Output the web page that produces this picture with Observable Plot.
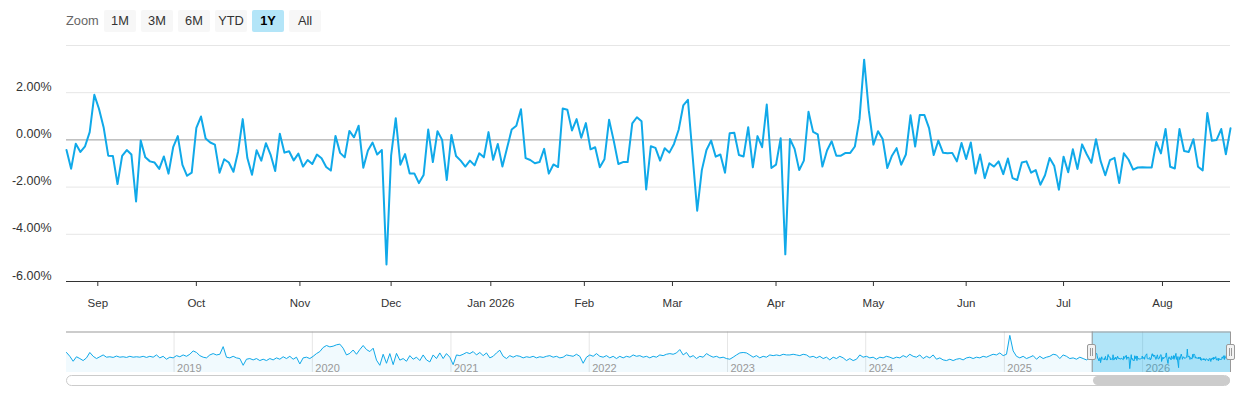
<!DOCTYPE html>
<html><head><meta charset="utf-8">
<script src="https://cdn.jsdelivr.net/npm/d3@7"></script>
<script src="https://cdn.jsdelivr.net/npm/@observablehq/plot@0.6"></script>
<style>
body{margin:0;background:#fff;}
#wrap{position:relative;width:1240px;height:400px;font-family:"Liberation Sans",Arial,Helvetica,sans-serif;overflow:hidden}
.lbl{position:absolute;top:10px;height:22px;line-height:22px;font-size:12.8px;color:#666}
.btn{position:absolute;top:10px;width:32px;height:22px;line-height:22px;text-align:center;font-size:12.8px;color:#333;background:#f7f7f7;border-radius:2px}
.btn.sel{background:#b3e5f8;font-weight:bold;color:#000}
.handle{position:absolute;top:344px;width:7px;height:14px;background:#f2f2f2;border:1px solid #999;border-radius:2px}
.handle i{position:absolute;left:2px;top:3px;width:1px;height:8px;border-left:1px solid #999;border-right:1px solid #999}
.track{position:absolute;top:375px;height:9px;border:1px solid #ccc;border-radius:6px;background:#fff}
.thumb{position:absolute;top:376px;height:9px;background:#ccc;border-radius:5px}
</style></head>
<body>
<div id="wrap"></div>
<script>
const rangeButtons = ["1M","3M","6M","YTD","1Y","All"];
const selectedButton = "1Y";

const startDate = "2025-08-21";
const holidays = ["2025-09-01","2025-11-27","2025-12-25","2026-01-01","2026-01-19","2026-02-16","2026-04-03","2026-05-25","2026-06-19","2026-07-03"];

// daily values (%), one per trading day
const returns = [
-0.43,-1.22,-0.16,-0.51,-0.27,0.33,1.91,1.32,0.54,-0.67,
-0.68,-1.87,-0.68,-0.43,-0.62,-2.61,-0.03,-0.74,-0.91,-0.96,
-1.23,-0.70,-1.43,-0.31,0.16,-1.06,-1.52,-1.39,0.51,0.99,
0.06,-0.11,-0.20,-1.39,-0.82,-0.96,-1.35,-0.50,0.88,-0.77,
-1.48,-0.44,-0.88,-0.14,-0.62,-1.32,0.26,-0.54,-0.48,-0.87,
-0.58,-1.13,-0.85,-1.02,-0.62,-0.78,-1.15,-1.30,0.17,-0.55,
-0.74,0.38,0.11,0.60,-1.18,-0.45,-0.11,-0.62,-0.43,-5.28,
-0.67,0.92,-1.05,-0.60,-1.42,-1.42,-1.83,-1.49,0.44,-0.94,
0.37,0.00,-1.70,0.21,-0.68,-0.88,-1.13,-0.88,-1.08,-0.57,
-0.74,0.33,-0.84,-0.17,-1.13,-0.34,0.44,0.60,1.30,-0.77,
-0.85,-0.99,-0.94,-0.38,-1.43,-1.04,-1.15,1.33,1.28,0.40,
0.88,0.09,0.71,-0.40,-0.31,-1.16,-0.82,0.85,-0.03,-1.02,
-0.94,-0.94,0.70,0.96,0.79,-2.10,-0.27,-0.34,-0.88,-0.35,
-0.54,-0.17,0.43,1.46,1.70,-0.65,-3.00,-1.28,-0.43,-0.03,
-0.71,-0.62,-1.39,0.28,0.30,-0.64,-0.70,0.54,-1.16,0.16,
-0.31,1.50,-1.19,-1.05,0.07,-4.85,0.04,-0.38,-1.28,-0.88,
1.19,0.34,0.23,-1.13,-0.45,-0.06,-0.67,-0.67,-0.55,-0.55,
-0.28,0.89,3.40,1.25,-0.20,0.37,0.04,-1.19,-0.67,-0.35,
-1.05,-0.62,1.04,-0.28,1.06,1.05,0.50,-0.64,-0.03,-0.54,
-0.57,-0.55,-0.91,-0.13,-0.81,-0.11,-1.42,-0.62,-1.62,-0.99,
-1.13,-0.91,-1.45,-0.79,-1.62,-1.70,-0.96,-0.91,-1.39,-1.28,
-1.90,-1.50,-0.77,-1.11,-2.11,-0.71,-1.37,-0.40,-1.23,-0.19,
-0.61,-0.97,0.03,-0.90,-1.50,-0.86,-0.76,-1.83,-0.57,-0.83,
-1.26,-1.17,-1.16,-1.17,-1.17,-0.09,-0.57,0.46,-1.14,-1.21,
0.46,-0.47,-0.51,0.03,-1.14,-1.29,1.14,-0.04,0.00,0.46,
-0.61,0.49
];

const monthStarts = ["2025-09-01","2025-10-01","2025-11-01","2025-12-01","2026-01-01","2026-02-01","2026-03-01","2026-04-01","2026-05-01","2026-06-01","2026-07-01","2026-08-01"];
const monthLabels = ["Sep","Oct","Nov","Dec","Jan 2026","Feb","Mar","Apr","May","Jun","Jul","Aug"];
const yTicks = [2, 0, -2, -4, -6];
const yGrid = [4, 2, -2, -4];

// navigator: full history (grouped), sampled every navStepDays
const navStart = "2018-03-23";
const navStepDays = 8.8;
const nav2018 = [
1.9,0.2,-2.0,0,-0.8,-1.7,-0.5,1.9,0.2,-0.8,
0,0.8,-0.2,0,-0.3,0.3,-0.2,0,-0.3,0.2,
-0.2,0,-0.2,0.2,-0.3,0.2,-0.2,0.8,-0.5,0.2,
-1.1,-0.2,-0.5,0.5,0,0.8,0.2,1.1,2.6,1.9,
0.5,-0.2,-0.5,0.8,1.4,0.8,1.1,4.5,-0.2,-0.5,
0.2,-0.5,-0.8,-3.8,-1.1,-0.8,-1.4,-0.8,-1.7,-1.1,
-1.7,-0.8,-1.4,-0.5,-1.1,0,-0.8,0.2,-1.1,-0.2,
-3.2,-0.5,-0.2,-0.8,0.2,1.4,2.3,4.1,5.0,4.4,
4.7,5.3,5.6,3.8,0.8,1.5,3.0,1.1,3.2,5.0,
3.2,2.3,3.8,-1.5,-3.8,1.1,-2.9,1.4,-3.5,1.5,
-1.5,-0.8,-2.0,0.5,-1.1,-0.2,-1.7,0.8,-1.4,-2.3,
0.8,-0.8,1.7,-0.8,1.4,-0.2,-3.5,0.8,0.5
];
const nav2021 = [
1.1,1.9,1.4,2.3,0.8,1.9,0.5,1.7,-0.5,0.2,
1.7,2.9,0.2,-0.8,0.5,-0.2,0.5,0.2,-0.5,0,
-0.3,0.2,-0.5,0,-0.3,0.2,0.5,-0.2,0.2,-0.5,
-0.2,0.8,0.5,0.2,1.1,0.2,-2.9,-0.2,0.8,0.2,
1.4,0.2,-0.2,0.5,-0.5,0.2,-0.8,0.2,-0.5,0.2,
-0.2,0.8,0.2,0.5,-0.2,0.2,-0.5,0.2,-0.2,0.8,
0.5,1.1,1.4,1.1,1.7,3.2,0.8,1.9,-0.2,0.5,
-0.8,0.2,-0.2,1.4,0.5,-0.2,0.2,-0.5,-0.2,-0.8,
-1.1,-0.2,0.8,1.7,1.9,1.7,0.8,-0.2,0.5,-0.5,
0.2,-0.2,0.8,0.5,0.8,0.5,1.1,0.8,0.8,1.1,
0.8,0.5,1.1,0.8,-0.2,0.2,-0.5,0.2,-0.8,-0.2,
-1.4,-0.2,-0.8,0.2,-0.5,-1.7,-0.8,-1.7
];
const nav2024 = [
-1.1,0.8,-0.2,0.2,-0.5,-0.2,-1.1,-0.2,-0.5,0.2,
-0.2,-0.8,-0.2,-0.5,0.5,-0.2,1.1,0.2,-0.2,0.8,
-0.8,0.2,-0.5,0.8,-1.1,-0.5,-1.4,-1.7,-1.1,-1.7,
-1.1,-0.8,-1.4,-0.5,-0.2,-0.8,-0.2,-0.5,0.2,-0.2,
0.5,1.1,0.8,1.7,0.5,1.1,9.5,2.6,0.2,-0.5,
0.2,-0.8,-0.2,0.5,-1.1,0.2,-0.8,-0.2,0.2,1.1,
0.8,-0.8,0.8,0.2,-0.8,-0.5,-1.1,-0.2,-0.8,-1.4,
-0.5
];
const navYears = [2019, 2020, 2021, 2022, 2023, 2024, 2025, 2026];

const LINE = "#10a9e9";
const FONT = '"Liberation Sans", Arial, Helvetica, sans-serif';

function tradingDays(s, n) {
  const out = [];
  let t = Date.parse(s + "T00:00:00Z");
  while (out.length < n) {
    const d = new Date(t);
    const wd = d.getUTCDay();
    if (wd !== 0 && wd !== 6 && !holidays.includes(d.toISOString().slice(0, 10))) out.push(d);
    t += 864e5;
  }
  return out;
}

const dates = tradingDays(startDate, returns.length);
const rows = returns.map((v, i) => ({i, v, date: dates[i]}));

const tickPos = monthStarts.map(s => {
  const t = Date.parse(s + "T00:00:00Z");
  const k = dates.findIndex(d => +d >= t);
  if (+dates[k] === t) return k;
  return (k - 1) + (t - dates[k - 1]) / (dates[k] - dates[k - 1]);
});
const tickLabel = new Map(tickPos.map((p, i) => [p, monthLabels[i]]));

const wrap = document.getElementById("wrap");

const main = Plot.plot({
  width: 1240, height: 320,
  marginTop: 45, marginBottom: 39, marginLeft: 66, marginRight: 10,
  style: {fontFamily: FONT, background: "transparent"},
  x: {domain: [0, returns.length - 1], label: null},
  y: {domain: [-6, 4], label: null},
  marks: [
    Plot.ruleY(yGrid, {stroke: "#e6e6e6"}),
    Plot.ruleY([0], {stroke: "#999"}),
    Plot.lineY(rows, {x: "i", y: "v", stroke: LINE, strokeWidth: 2, strokeLinejoin: "round"}),
    Plot.ruleY([-6], {stroke: "#333"}),
    Plot.axisX(tickPos, {label: null, tickSize: 5, tickPadding: 12, stroke: "#333", fill: "#333", fontSize: 11.5, tickFormat: d => tickLabel.get(d)}),
    Plot.axisY(yTicks, {label: null, tickSize: 0, tickPadding: 15, dy: -6, fill: "#333", fontSize: 12.5, tickFormat: d => d.toFixed(2) + "%"})
  ]
});
main.style.position = "absolute"; main.style.left = "0px"; main.style.top = "0px";
wrap.appendChild(main);

// range selector
const lbl = document.createElement("div");
lbl.className = "lbl"; lbl.style.left = "66px"; lbl.textContent = "Zoom";
wrap.appendChild(lbl);
rangeButtons.forEach((b, k) => {
  const el = document.createElement("div");
  el.className = "btn" + (b === selectedButton ? " sel" : "");
  el.style.left = (104 + k * 37) + "px";
  el.textContent = b;
  wrap.appendChild(el);
});

// navigator
const navHist = [...nav2018, ...nav2021, ...nav2024];
const t0 = Date.parse(navStart + "T00:00:00Z");
const navRows = navHist.map((v, k) => ({date: new Date(t0 + k * navStepDays * 864e5), v}))
  .concat(rows.map(r => ({date: r.date, v: r.v})));
const yearDates = navYears.map(y => new Date(Date.UTC(y, 0, 1)));
const selStart = dates[0], selEnd = dates[dates.length - 1];

const nav = Plot.plot({
  width: 1240, height: 80,
  marginTop: 11.5, marginBottom: 28, marginLeft: 66, marginRight: 10,
  style: {fontFamily: FONT, background: "transparent"},
  x: {type: "utc", domain: [new Date(t0), selEnd], axis: null},
  y: {domain: [-7, 11], axis: null},
  marks: [
    Plot.ruleX(yearDates, {stroke: "#e6e6e6"}),
    Plot.areaY(navRows, {x: "date", y1: () => -7, y2: "v", fill: LINE, fillOpacity: 0.06}),
    Plot.lineY(navRows, {x: "date", y: "v", stroke: LINE, strokeWidth: 1}),
    Plot.text(yearDates, {x: d => d, text: d => String(d.getUTCFullYear()), frameAnchor: "bottom", lineAnchor: "bottom", textAnchor: "start", dx: 3, dy: -1, fill: "#999", fontSize: 11}),
    Plot.rect([{a: selStart, b: selEnd}], {x1: "a", x2: "b", fill: "rgba(0,168,232,0.3)"}),
    Plot.ruleY([11], {stroke: "#999"}),
    Plot.ruleX([selStart, selEnd], {stroke: "#999"})
  ]
});
nav.style.position = "absolute"; nav.style.left = "0px"; nav.style.top = "320px";
wrap.appendChild(nav);

const xs = nav.scale("x").apply(selStart);
const xe = nav.scale("x").apply(selEnd);
const x0 = nav.scale("x").apply(new Date(t0));

[xs, xe].forEach(px => {
  const h = document.createElement("div");
  h.className = "handle";
  h.style.left = (px - 4.5) + "px";
  h.appendChild(document.createElement("i"));
  wrap.appendChild(h);
});

const track = document.createElement("div");
track.className = "track";
track.style.left = x0 + "px";
track.style.width = (xe - x0 - 2) + "px";
wrap.appendChild(track);
const thumb = document.createElement("div");
thumb.className = "thumb";
thumb.style.left = (xs + 1) + "px";
thumb.style.width = (xe - xs - 1) + "px";
wrap.appendChild(thumb);
</script>
</body></html>
